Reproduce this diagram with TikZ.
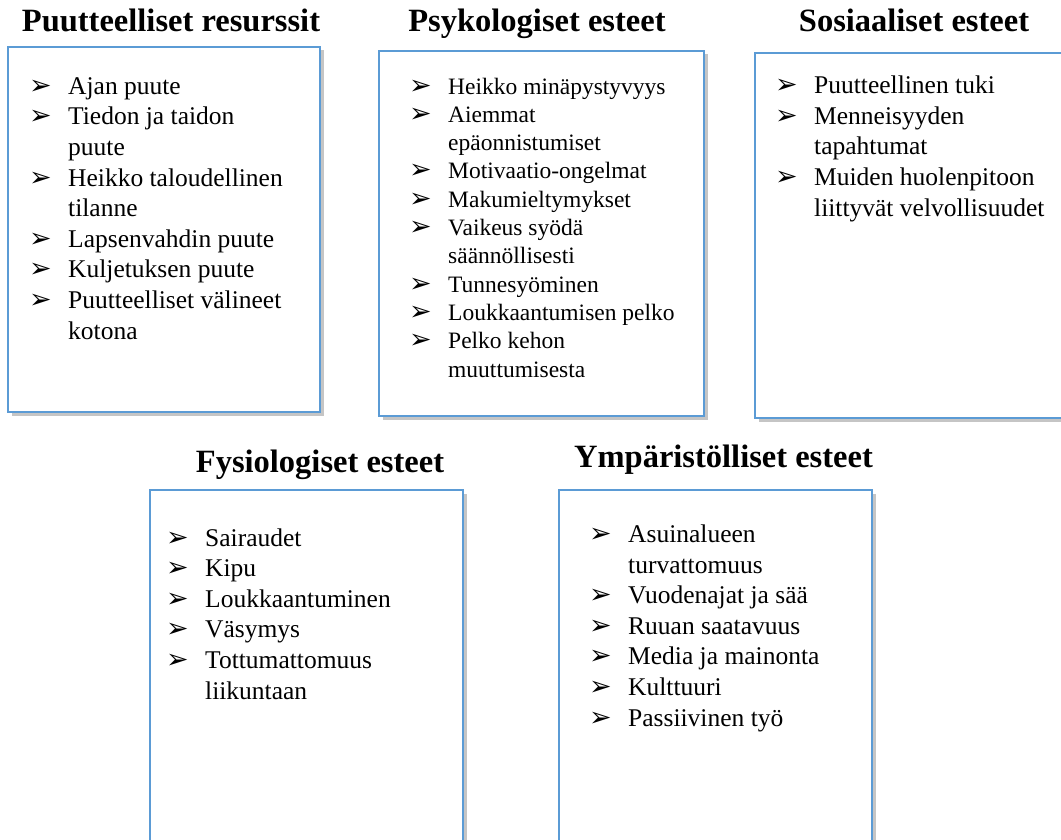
\documentclass[tikz,border=0pt]{standalone}
\usepackage{fontspec}
\setmainfont{Liberation Serif}
\newfontfamily\arrowfont{DejaVu Sans}
\usepackage{tikz}
\usetikzlibrary{shadows}
\definecolor{boxblue}{RGB}{91,155,213}
\newlength{\itmindent}
\setlength{\itmindent}{39pt}
\newcommand{\itm}[1]{\makebox[\itmindent][l]{\arrowfont\bfseries\fontsize{27}{27}\selectfont ➢}#1}
\newcommand{\cont}[1]{\hspace*{\itmindent}#1}

\begin{document}
\begin{tikzpicture}[x=1pt, y=-1pt,
    panel/.style={draw=boxblue, line width=2pt, fill=white, inner sep=0pt,
      drop shadow={shadow xshift=3.5pt, shadow yshift=-3.5pt, opacity=0.45, fill=gray}},
    heading/.style={anchor=base, inner sep=0pt, font=\bfseries\fontsize{32.5}{36}\selectfont},
    items/.style={anchor=base west, align=left, inner sep=0pt, font=\fontsize{25.5}{30.6}\selectfont}]
    \useasboundingbox (0,0) rectangle (1061,840);
    \fill[white] (0,0) rectangle (1061,840);

    \node[panel, minimum width=312, minimum height=365] (resurssitbox) at (164,229.5) {};
    \node[panel, minimum width=325, minimum height=365] (psykbox) at (541.5,233.5) {};
    \node[panel, minimum width=315, minimum height=365] (sosbox) at (912.5,235.5) {};
    \node[panel, minimum width=313, minimum height=380] (fysbox) at (306.5,680) {};
    \node[panel, minimum width=313, minimum height=380] (ympbox) at (715.5,680) {};

    \node[heading] (resurssit) at (171,32) {Puutteelliset resurssit};
    \node[heading] (psyk) at (537,32) {Psykologiset esteet};
    \node[heading] (sos) at (914,32) {Sosiaaliset esteet};
    \node[heading] (fys) at (320,472) {Fysiologiset esteet};
    \node[heading] (ymp) at (723.5,467) {Ympäristölliset esteet};

    % lists sit on the baseline of their last line
    \node[items] (resurssitlist) at (29,339) {\itm{Ajan puute}\\ \itm{Tiedon ja taidon}\\ \cont{puute}\\
      \itm{Heikko taloudellinen}\\ \cont{tilanne}\\ \itm{Lapsenvahdin puute}\\
      \itm{Kuljetuksen puute}\\ \itm{Puutteelliset välineet}\\ \cont{kotona}};
    \node[items, font=\fontsize{23.5}{28.3}\selectfont] (psyklist) at (409,377) {\itm{Heikko minäpystyvyys}\\
      \itm{Aiemmat}\\ \cont{epäonnistumiset}\\ \itm{Motivaatio-ongelmat}\\ \itm{Makumieltymykset}\\
      \itm{Vaikeus syödä}\\ \cont{säännöllisesti}\\ \itm{Tunnesyöminen}\\
      \itm{Loukkaantumisen pelko}\\ \itm{Pelko kehon}\\ \cont{muuttumisesta}};
    \node[items] (soslist) at (775,216) {\itm{Puutteellinen tuki}\\ \itm{Menneisyyden}\\ \cont{tapahtumat}\\
      \itm{Muiden huolenpitoon}\\ \cont{liittyvät velvollisuudet}};
    \node[items] (fyslist) at (166,699) {\itm{Sairaudet}\\ \itm{Kipu}\\ \itm{Loukkaantuminen}\\
      \itm{Väsymys}\\ \itm{Tottumattomuus}\\ \cont{liikuntaan}};
    \node[items] (ymplist) at (589,726) {\itm{Asuinalueen}\\ \cont{turvattomuus}\\ \itm{Vuodenajat ja sää}\\
      \itm{Ruuan saatavuus}\\ \itm{Media ja mainonta}\\ \itm{Kulttuuri}\\ \itm{Passiivinen työ}};
\end{tikzpicture}
\end{document}
